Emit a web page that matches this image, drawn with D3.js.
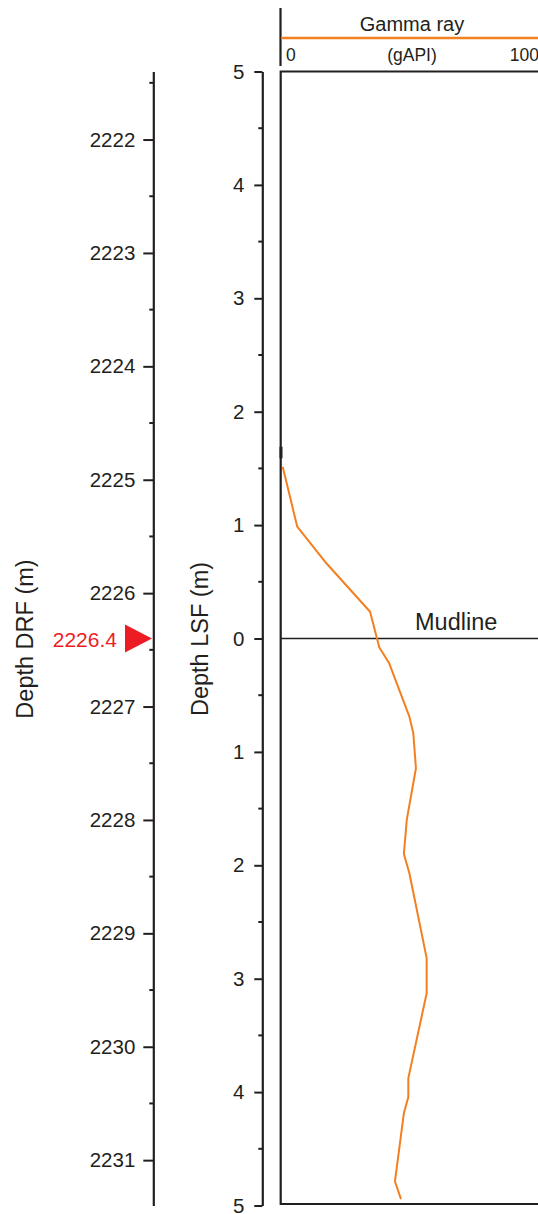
<!DOCTYPE html>
<html><head><meta charset="utf-8">
<script src="https://cdn.jsdelivr.net/npm/d3@7"></script>
<style>
html,body{margin:0;padding:0;background:#fff;}
svg{display:block;font-family:"Liberation Sans",Arial,Helvetica,sans-serif;}
</style></head>
<body><svg id="c" width="538" height="1214"></svg>
<script>
// ---- data ----
const drfTicks = [2222,2223,2224,2225,2226,2227,2228,2229,2230,2231];
const lsfTicks = [-5,-4,-3,-2,-1,0,1,2,3,4,5];
const mudlineDRF = 2226.4;
const gammaRange = [0,100];
// gamma ray log: depth relative to mudline (m, positive below), value in gAPI
const grDepth = [-1.514,-0.986,-0.677,-0.236,0.078,0.219,0.689,0.836,1.144,1.600,1.900,2.070,2.819,3.128,3.877,4.044,4.185,4.788,4.944];
const grValue = [0.65,6.2,16.8,34.0,37.5,41.3,49.0,50.5,51.5,48.0,46.9,49.0,55.6,55.6,48.6,48.6,46.9,43.5,45.8];
// short black segment near top of log
const blkDepth = [-1.691,-1.589];
const blkValue = [0,0];

(function(){
const ink = "#231f20", orange = "#f47f20", red = "#ed1c24";
const svg = d3.select("#c");
const yTop = 71.5, yBot = 1205.5;
const y = d3.scaleLinear().domain([-5,5]).range([yTop,yBot]);
const yDRF = d3.scaleLinear().domain([mudlineDRF-5, mudlineDRF+5]).range([yTop,yBot]);
const x = d3.scaleLinear().domain(gammaRange).range([281,543]);

// DRF axis
const drfMinor = d3.range(2221.5, 2231.01, 1);
const gD = svg.append("g").attr("transform","translate(153.3,0)");
gD.call(d3.axisLeft(yDRF).tickValues(drfTicks).tickFormat(d3.format("d")).tickSize(10).tickSizeOuter(0).tickPadding(8));
gD.append("g").selectAll("line").data(drfMinor).join("line")
  .attr("x1",-4).attr("x2",0).attr("y1",d=>yDRF(d)).attr("y2",d=>yDRF(d))
  .attr("stroke",ink).attr("stroke-width",2);
// LSF axis
const lsfMinor = d3.range(-4.5, 4.51, 1);
const gL = svg.append("g").attr("transform","translate(262.3,0)");
gL.call(d3.axisLeft(y).tickValues(lsfTicks).tickFormat(d=>Math.abs(d)).tickSize(8).tickSizeOuter(0).tickPadding(10));
gL.append("g").selectAll("line").data(lsfMinor).join("line")
  .attr("x1",-4).attr("x2",0).attr("y1",d=>y(d)).attr("y2",d=>y(d))
  .attr("stroke",ink).attr("stroke-width",2);
[gD,gL].forEach(g=>{
  g.select(".domain").attr("stroke",ink).attr("stroke-width",2.2);
  g.selectAll(".tick line").attr("stroke",ink).attr("stroke-width",2);
  g.selectAll(".tick text").attr("fill",ink).attr("font-size",20.5).attr("font-family","Liberation Sans, Arial, sans-serif");
});

// axis titles
svg.append("text").attr("transform","translate(33,639) rotate(-90)").attr("text-anchor","middle")
  .attr("font-size",23.5).attr("fill",ink).text("Depth DRF (m)");
svg.append("text").attr("transform","translate(208,639) rotate(-90)").attr("text-anchor","middle")
  .attr("font-size",23.5).attr("fill",ink).text("Depth LSF (m)");

// mudline marker on DRF axis
const ym = yDRF(mudlineDRF);
svg.append("path").attr("d",`M125,${ym-14}L152,${ym}L125,${ym+14}Z`).attr("fill",red);
svg.append("text").attr("x",117).attr("y",ym+1).attr("dy","0.35em").attr("text-anchor","end")
  .attr("font-size",21).attr("fill",red).text(String(mudlineDRF));

// header
svg.append("line").attr("x1",280.5).attr("x2",280.5).attr("y1",8).attr("y2",66).attr("stroke",ink).attr("stroke-width",2.2);
svg.append("line").attr("x1",x(0)).attr("x2",x(100)).attr("y1",38).attr("y2",38).attr("stroke",orange).attr("stroke-width",2.5);
svg.append("text").attr("x",(x(0)+x(100))/2).attr("y",31).attr("text-anchor","middle").attr("font-size",20).attr("fill",ink).text("Gamma ray");
svg.append("text").attr("x",x(0)+5).attr("y",61).attr("font-size",17.5).attr("fill",ink).text(gammaRange[0]);
svg.append("text").attr("x",(x(0)+x(100))/2).attr("y",61).attr("text-anchor","middle").attr("font-size",17.5).attr("fill",ink).text("(gAPI)");
svg.append("text").attr("x",x(100)-4).attr("y",61).attr("text-anchor","end").attr("font-size",17.5).attr("fill",ink).text(gammaRange[1]);

// plot frame
const fb = y(5)-1.5;
svg.append("path").attr("d",`M545,${yTop}H280.7V${fb}H545`).attr("fill","none").attr("stroke",ink).attr("stroke-width",2.2);

// mudline
svg.append("line").attr("x1",281).attr("x2",545).attr("y1",y(0)).attr("y2",y(0)).attr("stroke",ink).attr("stroke-width",1.6);
svg.append("text").attr("x",415).attr("y",y(0)-9).attr("font-size",23.5).attr("fill",ink).text("Mudline");

// gamma ray curve
const line = d3.line().x(d=>x(d[1])).y(d=>y(d[0]));
svg.append("path").datum(grDepth.map((d,i)=>[d,grValue[i]])).attr("d",line)
  .attr("fill","none").attr("stroke",orange).attr("stroke-width",2).attr("stroke-linejoin","round");
svg.append("path").datum(blkDepth.map((d,i)=>[d,blkValue[i]])).attr("d",line)
  .attr("fill","none").attr("stroke",ink).attr("stroke-width",3);
})();
</script></body></html>
